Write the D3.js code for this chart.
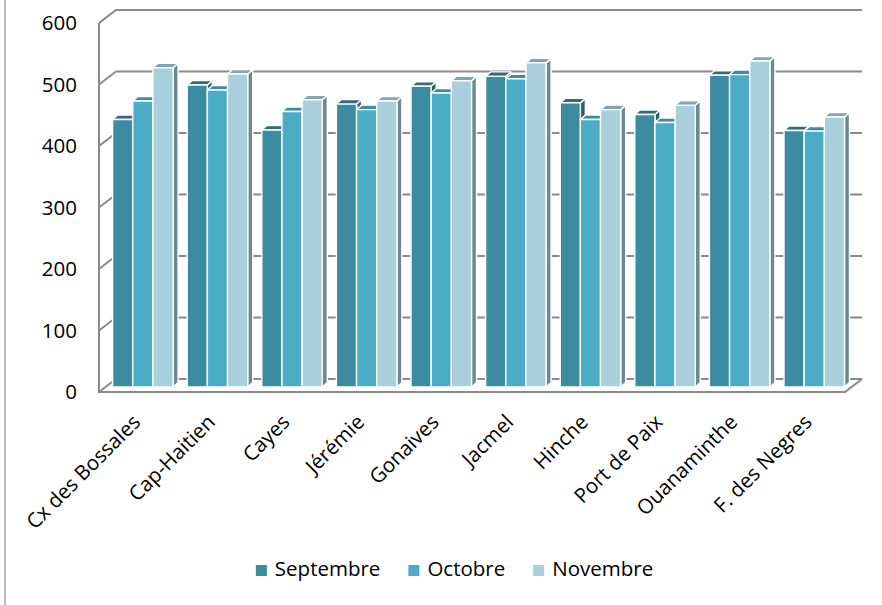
<!DOCTYPE html>
<html>
<head>
<meta charset="utf-8">
<script src="https://cdn.jsdelivr.net/npm/d3@7"></script>
<style>
  html, body { margin: 0; padding: 0; background: #ffffff; }
  svg { display: block; }
  text { font-family: "Open Sans", "Liberation Sans", sans-serif; fill: #000; }
</style>
</head>
<body>
<svg id="chart" width="882" height="605"></svg>
<script>
// ---- data ----
const categories = ["Cx des Bossales", "Cap-Haitien", "Cayes", "Jérémie", "Gonaives",
                    "Jacmel", "Hinche", "Port de Paix", "Ouanaminthe", "F. des Negres"];
const seriesNames = ["Septembre", "Octobre", "Novembre"];
const septembre = [435, 491, 418, 460, 489, 505, 462, 443, 507, 417];
const octobre   = [465, 483, 448, 451, 478, 501, 435, 430, 508, 416];
const novembre  = [519, 509, 467, 465, 498, 527, 451, 458, 530, 439];
const yTicks = [0, 100, 200, 300, 400, 500, 600];

const seriesValues = [septembre, octobre, novembre];
const frontColors = ["#3b8ba1", "#4bacc6", "#a9cfdd"];
const topColors   = ["#2c6e80", "#3a8da4", "#7fa5b2"];
const sideColors  = ["#2a5e6d", "#35849a", "#6d8893"];

// ---- geometry ----
const svg = d3.select("#chart");
const X0 = 99, X1 = 845;          // front floor edge
const DX = 17, DY = -13;          // full depth offset (front -> back wall)
const F = 0.385;                  // depth position of bar fronts
const BDX = 5, BDY = -4.5;        // bar depth
const gridColor = "#8a8a8a";

const y = d3.scaleLinear().domain([0, 600]).range([392, 23]);
const x = d3.scaleBand().domain(categories).range([X0, X1]);
const xs = d3.scaleBand().domain(seriesNames).range([0, x.bandwidth()]).paddingOuter(0.35);

// outer left border
svg.append("line").attr("x1", 5).attr("x2", 5).attr("y1", 0).attr("y2", 605)
  .attr("stroke", "#a6a6a6").attr("stroke-width", 1.5);

// back wall + left wall gridlines
const grid = svg.append("g").attr("fill", "none").attr("stroke", gridColor).attr("stroke-width", 2);
yTicks.forEach(t => {
  const yf = y(t);
  grid.append("path")
    .attr("d", `M${X0},${yf} L${X0 + DX},${yf + DY} L${X1 + DX},${yf + DY}`);
});

// bars
const barsG = svg.append("g");
categories.forEach((c, ci) => {
  seriesNames.forEach((s, si) => {
    const v = seriesValues[si][ci];
    const bx = x(c) + xs(s) + F * DX;
    const w = xs.bandwidth();
    const ty = y(v) + F * DY;
    const by = y(0) + F * DY;
    const g = barsG.append("g").attr("stroke", "#ffffff").attr("stroke-width", 1.4)
      .attr("stroke-linejoin", "round");
    g.append("path").attr("fill", sideColors[si])
      .attr("d", `M${bx + w},${ty} L${bx + w + BDX},${ty + BDY} L${bx + w + BDX},${by + BDY} L${bx + w},${by} Z`);
    g.append("path").attr("fill", topColors[si])
      .attr("d", `M${bx},${ty} L${bx + BDX},${ty + BDY} L${bx + w + BDX},${ty + BDY} L${bx + w},${ty} Z`);
    g.append("rect").attr("fill", frontColors[si])
      .attr("x", bx).attr("y", ty).attr("width", w).attr("height", by - ty);
  });
});

// floor front edge and vertical axis
const axisG = svg.append("g").attr("fill", "none").attr("stroke", gridColor).attr("stroke-width", 2);
axisG.append("path").attr("d", `M${X0},${y(600)} L${X0},${y(0)} L${X1},${y(0)} L${X1 + DX},${y(0) + DY}`);

// y tick labels
svg.append("g").selectAll("text").data(yTicks).join("text")
  .attr("x", 77).attr("y", d => y(d) + 2)
  .attr("text-anchor", "end").attr("dominant-baseline", "middle")
  .attr("font-size", 20.5)
  .text(d => d);

// category labels
svg.append("g").selectAll("text").data(categories).join("text")
  .attr("text-anchor", "end")
  .attr("font-size", 20.5)
  .attr("dy", "0.72em")
  .attr("transform", d => `translate(${x(d) + x.bandwidth() / 2 - 5},${413}) rotate(-45)`)
  .text(d => d);

// legend
const legend = svg.append("g");
const items = seriesNames.map((s, i) => {
  const g = legend.append("g");
  g.append("rect").attr("x", 0).attr("y", -6).attr("width", 11).attr("height", 11)
    .attr("fill", frontColors[i]);
  const t = g.append("text").attr("x", 19).attr("y", 0).attr("dominant-baseline", "middle")
    .attr("font-size", 20.5).text(s);
  return { g, w: 19 + t.node().getComputedTextLength() };
});
const gap = 28;
const total = d3.sum(items, d => d.w) + gap * (items.length - 1);
let cx = 454.5 - total / 2;
items.forEach(it => {
  it.g.attr("transform", `translate(${cx},${571})`);
  cx += it.w + gap;
});
</script>
</body>
</html>
